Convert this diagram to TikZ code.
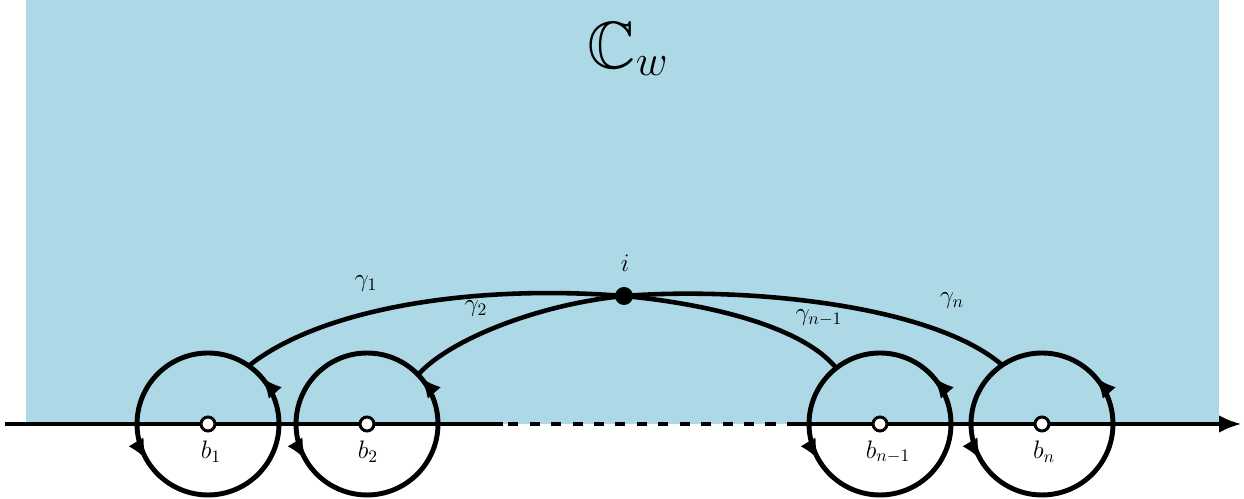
\documentclass[tikz,border=0pt]{standalone}
\usepackage{amsmath}
\usepackage{amssymb}
\usetikzlibrary{arrows.meta,decorations.markings}

\definecolor{planeblue}{RGB}{173,216,230}

\begin{document}
\begin{tikzpicture}[
  x=0.02cm,y=0.02cm,
  >=Latex,
  lab/.style={font=\fontsize{14}{17}\selectfont,inner sep=0pt},
  axisline/.style={draw,line width=2.8pt},
  loopc/.style={circle,draw,line width=2.8pt,minimum size=2.84cm,inner sep=0pt,outer sep=0pt,
    postaction={decorate,decoration={markings,
      mark=at position 0.115 with {\arrow{Latex[length=12pt,width=10pt]}},
      mark=at position 0.585 with {\arrow{Latex[length=12pt,width=10pt]}}}}},
  contour/.style={draw,line width=2.6pt},
  pole/.style={circle,draw,fill=white,line width=1.7pt,minimum size=2.8mm,inner sep=0pt},
  ipt/.style={circle,fill=black,minimum size=3.6mm,inner sep=0pt},
]
\useasboundingbox (0,0) rectangle (1244,499);

% ---------- upper half plane ----------
\fill[planeblue] (26,75) rectangle (1219,499);
\node[font=\fontsize{38}{44}\selectfont] (cw) at (628,450) {$\mathbb{C}_w$};

% ---------- real axis ----------
\coordinate (ax0) at (5,75);
\coordinate (d0) at (503,75);
\coordinate (d1) at (795,75);
\coordinate (ax1) at (1242,75);
\draw[axisline] (ax0) -- (d0);
\draw[axisline,dash pattern=on 5.7pt off 6.5pt,dash phase=-3pt] (d0) -- (d1);
\draw[axisline,-{Latex[length=13pt,width=10pt]}] (d1) -- (ax1);

% ---------- loops around the branch points ----------
\node[loopc] (c1) at (208,75) {};
\node[loopc] (c2) at (367,75) {};
\node[loopc] (c3) at (880,75) {};
\node[loopc] (c4) at (1042,75) {};

% ---------- paths to i ----------
\coordinate (i) at (624,203);
\draw[contour] (c1.55) .. controls (320,190) and (470,215) .. (i);
\draw[contour] (c2.44) .. controls (450,160) and (540,195) .. (i);
\draw[contour] (i) .. controls (700,196) and (800,175) .. (c3.128);
\draw[contour] (i) .. controls (740,212) and (930,196) .. (c4.124);

\node[ipt] (ip) at (i) {};
\node[lab] at (625,236) {$i$};

\node[lab] (g1) at (366,215) {$\gamma_1$};
\node[lab] (g2) at (476,190) {$\gamma_2$};
\node[lab] (g3) at (819,181) {$\gamma_{n-1}$};
\node[lab] (g4) at (952,198) {$\gamma_n$};

% ---------- branch points ----------
\node[pole] (b1) at (208,75) {};
\node[pole] (b2) at (367,75) {};
\node[pole] (b3) at (880,75) {};
\node[pole] (b4) at (1042,75) {};

\node[lab] at (211,47) {$b_1$};
\node[lab] at (368,47) {$b_2$};
\node[lab] at (888,47) {$b_{n-1}$};
\node[lab] at (1044,47) {$b_n$};

\end{tikzpicture}
\end{document}
